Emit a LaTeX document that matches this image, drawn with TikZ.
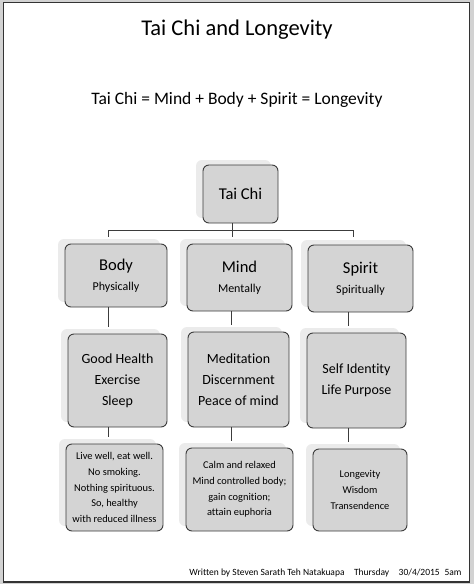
\documentclass[tikz,border=0pt]{standalone}
\usepackage{fontspec}
\setmainfont{Carlito}[Ligatures=NoCommon]
\usetikzlibrary{positioning, shadows}
\definecolor{cardfill}{RGB}{212,212,212}
\definecolor{cardline}{RGB}{60,60,60}
\tikzset{
  card/.style={draw=cardline, fill=cardfill, rounded corners=6pt, line width=0.9pt, align=center, inner sep=0pt,
    general shadow={fill=black!8, shadow xshift=-7pt, shadow yshift=5pt}},
  head/.style={card, font=\fontsize{16.5}{21}\selectfont},
  mid/.style={card, font=\fontsize{14}{21}\selectfont},
  low/.style={card, font=\fontsize{10.4}{15.7}\selectfont},
  wire/.style={draw=cardline, line width=0.8pt}
}
\begin{document}
\begin{tikzpicture}[x=1pt, y=-1pt]
	\useasboundingbox (0,0) rectangle (474,584);
	\fill[gray!35] (0,0) rectangle (474,584);
	\draw[line width=1.6pt, black!80, fill=white] (3.5,2.5) rectangle (469.5,582);
	% headings
	\node[font=\fontsize{22.5}{26}\selectfont] (title) at (237,30) {Tai Chi and Longevity};
	\node[font=\fontsize{17.5}{21}\selectfont] (sum) at (237,100) {Tai Chi = Mind + Body + Spirit = Longevity};
	% top of the tree
	\node[head, minimum width=75pt, minimum height=58pt] (taichi) at (240.5,194) {Tai Chi};
	\node[head, minimum width=102pt, minimum height=63pt] (body) at (116,275.5) {Body\\[-1pt]{\fontsize{12}{14}\selectfont Physically}};
	\node[head, minimum width=105pt, minimum height=67pt] (mind) at (239.5,277.5) {Mind\\[-1pt]{\fontsize{12}{14}\selectfont Mentally}};
	\node[head, minimum width=105pt, minimum height=67pt] (spirit) at (360.5,278.5) {Spirit\\[-1pt]{\fontsize{12}{14}\selectfont Spiritually}};
	% second row
	\node[mid, minimum width=99pt, minimum height=93pt] (good) at (117.5,380.5) {Good Health\\Exercise\\Sleep};
	\node[mid, minimum width=101pt, minimum height=95pt] (medit) at (238.5,379.5) {Meditation\\Discernment\\Peace of mind};
	\node[mid, minimum width=99pt, minimum height=95pt] (self) at (356.5,380.5) {Self Identity\\Life Purpose};
	% third row
	\node[low, minimum width=97pt, minimum height=87pt] (live) at (114.5,487.5) {Live well, eat well.\\No smoking.\\Nothing spirituous.\\So, healthy\\with reduced illness};
	\node[low, minimum width=107pt, minimum height=83pt] (calm) at (239.5,489.5) {Calm and relaxed\\Mind controlled body;\\gain cognition;\\attain euphoria};
	\node[low, minimum width=94pt, minimum height=82pt] (longev) at (360,490) {Longevity\\Wisdom\\Transendence};
	% connectors
	\coordinate (busL) at (108,230);
	\coordinate (bus) at (232,230);
	\coordinate (busR) at (353,230);
	\draw[wire] (bus |- taichi.south) -- (bus);
	\draw[wire] (busL) -- (busR);
	\foreach \c in {busL, bus, busR} \draw[wire, shorten >=7pt] (\c) -- (\c |- body.north);
	\coordinate (col1) at (108,0);
	\coordinate (col2) at (231,0);
	\coordinate (col3) at (348,0);
	\foreach \a/\b/\c in {body/good/col1, mind/medit/col2, spirit/self/col3} \draw[wire, shorten >=7pt] (\a.south -| \c) -- (\b.north -| \c);
	\foreach \a/\b/\c in {good/live/col1, medit/calm/col2, self/longev/col3} \draw[wire, shorten >=7pt] (\a.south -| \c) -- (\b.north -| \c);
	% footer
	\node[font=\fontsize{9.5}{11}\selectfont, anchor=east] (sign) at (465,573) {Written by Steven Sarath Teh Natakuapa\quad Thursday\quad 30/4/2015\enspace 5am};
\end{tikzpicture}
\end{document}
